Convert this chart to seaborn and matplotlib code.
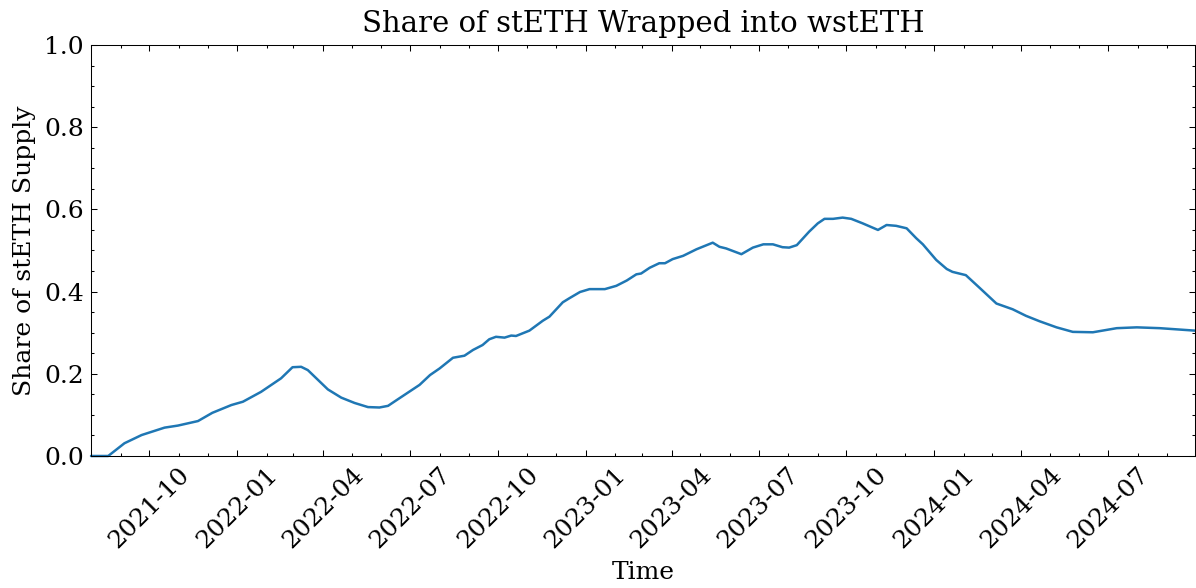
import pandas as pd
import seaborn as sns
import matplotlib.pyplot as plt
import matplotlib.dates as mdates
from matplotlib.ticker import MultipleLocator

# valores
fechas = [
    "2021-08-01", "2021-08-19", "2021-09-05", "2021-09-23", "2021-10-17", "2021-10-31",
    "2021-11-21", "2021-12-06", "2021-12-26", "2022-01-07", "2022-01-26", "2022-02-16",
    "2022-02-28", "2022-03-09", "2022-03-16", "2022-04-06", "2022-04-20", "2022-05-04",
    "2022-05-18", "2022-05-30", "2022-06-08", "2022-06-17", "2022-07-11", "2022-07-22",
    "2022-08-01", "2022-08-15", "2022-08-27", "2022-09-05", "2022-09-15", "2022-09-22",
    "2022-09-29", "2022-10-08", "2022-10-15", "2022-10-20", "2022-11-03", "2022-11-17",
    "2022-11-24", "2022-12-08", "2022-12-15", "2022-12-26", "2023-01-05", "2023-01-21",
    "2023-02-02", "2023-02-13", "2023-02-23", "2023-02-28", "2023-03-09", "2023-03-19",
    "2023-03-25", "2023-04-02", "2023-04-13", "2023-04-27", "2023-05-14", "2023-05-21",
    "2023-05-28", "2023-06-13", "2023-06-25", "2023-07-06", "2023-07-16", "2023-07-26",
    "2023-08-02", "2023-08-10", "2023-08-23", "2023-09-01", "2023-09-08", "2023-09-17",
    "2023-09-27", "2023-10-06", "2023-10-18", "2023-11-03", "2023-11-12", "2023-11-22",
    "2023-12-03", "2023-12-13", "2023-12-20", "2024-01-03", "2024-01-14", "2024-01-20",
    "2024-02-03", "2024-02-17", "2024-03-06", "2024-03-23", "2024-04-06", "2024-04-20",
    "2024-05-08", "2024-05-25", "2024-06-15", "2024-07-10", "2024-07-31", "2024-08-24",
    "2024-09-30",
]
share = [
    0.000, 0.000, 0.031, 0.051, 0.069, 0.074,
    0.085, 0.105, 0.124, 0.132, 0.156, 0.189,
    0.216, 0.217, 0.209, 0.162, 0.142, 0.129,
    0.119, 0.118, 0.122, 0.136, 0.173, 0.197,
    0.213, 0.239, 0.244, 0.258, 0.270, 0.284,
    0.290, 0.288, 0.293, 0.292, 0.305, 0.329,
    0.339, 0.374, 0.384, 0.399, 0.406, 0.406,
    0.414, 0.427, 0.442, 0.444, 0.458, 0.469,
    0.469, 0.479, 0.487, 0.503, 0.519, 0.509,
    0.505, 0.491, 0.507, 0.515, 0.515, 0.508,
    0.507, 0.513, 0.546, 0.566, 0.577, 0.577,
    0.580, 0.577, 0.566, 0.550, 0.562, 0.560,
    0.554, 0.530, 0.515, 0.477, 0.455, 0.448,
    0.440, 0.410, 0.371, 0.357, 0.341, 0.328,
    0.313, 0.302, 0.301, 0.311, 0.313, 0.311,
    0.305,
]

datos = pd.DataFrame({"Time": pd.to_datetime(fechas), "share": share})

sns.set_style("ticks")
plt.rcParams["font.family"] = ["DejaVu Serif"]
plt.rcParams.update({
    "xtick.direction": "in", "ytick.direction": "in",
    "xtick.top": True, "ytick.right": True,
    "xtick.major.size": 3, "ytick.major.size": 3,
    "xtick.minor.size": 1.5, "ytick.minor.size": 1.5,
    "xtick.major.width": 0.5, "ytick.major.width": 0.5,
    "xtick.minor.width": 0.5, "ytick.minor.width": 0.5,
    "xtick.minor.visible": True, "ytick.minor.visible": True,
    "axes.linewidth": 0.5, "axes.edgecolor": "black",
    "xtick.color": "black", "ytick.color": "black",
    "text.color": "black", "axes.labelcolor": "black",
})

fig, ax = plt.subplots(figsize=(1196 / 150, 588 / 150), dpi=150)
fig.subplots_adjust(left=0.0761, right=0.9992, top=0.9235, bottom=0.2245)

sns.lineplot(data=datos, x="Time", y="share", ax=ax, color="#1f77b4", linewidth=1.2)
ax.lines[0].set_clip_on(False)  # la parte en cero se ve sobre el eje

ax.set_xlim(pd.Timestamp("2021-08-01"), pd.Timestamp("2024-09-30"))
ax.set_ylim(0, 1)
ax.yaxis.set_major_locator(MultipleLocator(0.2))
ax.yaxis.set_minor_locator(MultipleLocator(0.05))
ax.xaxis.set_major_locator(mdates.MonthLocator(bymonth=[1, 4, 7, 10]))
ax.xaxis.set_minor_locator(mdates.MonthLocator())
ax.xaxis.set_major_formatter(mdates.DateFormatter("%Y-%m"))

ax.tick_params(labelsize=12)
plt.xticks(rotation=45)
ax.set_title("Share of stETH Wrapped into wstETH", fontsize=14)
ax.set_xlabel("Time", fontsize=12)
ax.set_ylabel("Share of stETH Supply", fontsize=12)

fig.savefig("out.png", dpi=150)
